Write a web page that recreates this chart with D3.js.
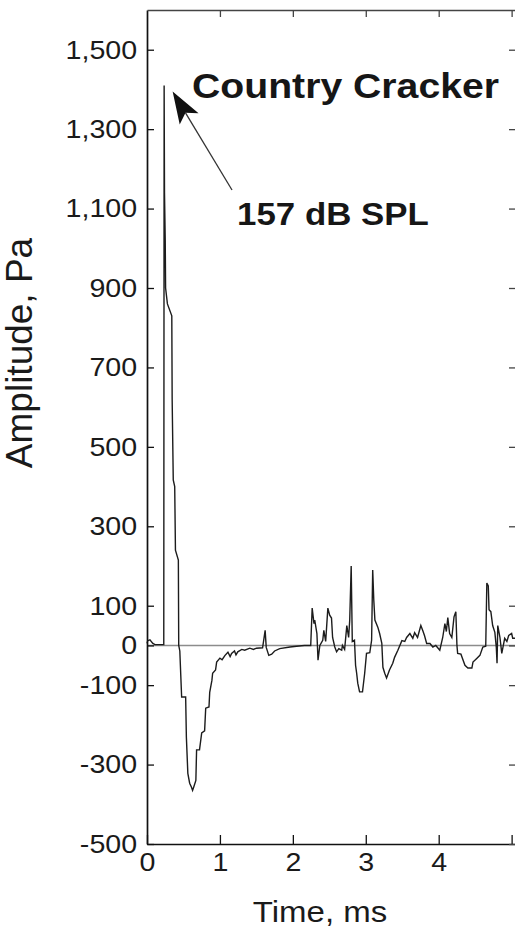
<!DOCTYPE html>
<html>
<head>
<meta charset="utf-8">
<script src="https://cdn.jsdelivr.net/npm/d3@7"></script>
<style>
  html, body { margin: 0; padding: 0; background: #fff; }
  svg { display: block; font-family: Arial, "Liberation Sans", Helvetica, sans-serif; }
</style>
</head>
<body>
<div id="chart"></div>
<script>
// ---------------------------- data ----------------------------
const timeMs = [
    0.00, 0.01, 0.04, 0.08, 0.11, 0.23, 0.235, 0.24, 0.25, 0.255, 0.28, 0.34, 0.345, 0.36, 0.38, 0.39,
    0.43, 0.435, 0.45, 0.475, 0.53, 0.54, 0.56, 0.585, 0.61, 0.625, 0.64, 0.67, 0.68, 0.72, 0.75, 0.79,
    0.805, 0.85, 0.86, 0.89, 0.90, 0.94, 0.955, 1.00, 1.03, 1.07, 1.11, 1.14, 1.16, 1.20, 1.22, 1.245,
    1.30, 1.34, 1.41, 1.46, 1.50, 1.585, 1.62, 1.635, 1.67, 1.71, 1.75, 1.82, 1.96, 2.05, 2.16, 2.245,
    2.265, 2.29, 2.30, 2.33, 2.345, 2.37, 2.41, 2.425, 2.45, 2.48, 2.505, 2.53, 2.545, 2.575, 2.60, 2.63,
    2.67, 2.68, 2.71, 2.74, 2.765, 2.78, 2.80, 2.815, 2.845, 2.86, 2.875, 2.89, 2.915, 2.955, 2.985, 3.01,
    3.055, 3.08, 3.095, 3.11, 3.125, 3.165, 3.19, 3.22, 3.235, 3.26, 3.285, 3.325, 3.37, 3.395, 3.44, 3.495,
    3.535, 3.56, 3.605, 3.645, 3.67, 3.71, 3.755, 3.78, 3.805, 3.835, 3.88, 3.92, 3.96, 4.015, 4.055, 4.085,
    4.105, 4.125, 4.15, 4.18, 4.21, 4.235, 4.25, 4.26, 4.305, 4.32, 4.36, 4.40, 4.455, 4.47, 4.525, 4.565,
    4.605, 4.645, 4.66, 4.68, 4.69, 4.715, 4.74, 4.77, 4.79, 4.80, 4.81, 4.84, 4.865, 4.905, 4.935, 4.96,
    5.00, 5.015, 5.06
];
const amplitudePa = [
    5, 12, 14, 5, 2, 2, 1410, 1140, 1020, 900, 860, 830, 620, 417, 400, 240,
    215, 0, -14, -130, -130, -231, -322, -347, -357, -365, -357, -340, -263, -263, -220, -215,
    -158, -155, -118, -88, -70, -62, -42, -32, -36, -25, -17, -28, -20, -14, -24, -16,
    -10, -12, -7, -10, -7, -6, 38, -5, -25, -22, -14, -8, -4, -2, 0, 0,
    94, 55, 64, 30, -37, 0, 13, 38, 10, 94, 76, 69, 20, -4, -16, -8,
    -12, 0, -10, 50, 20, 64, 200, 10, 13, -50, -70, -95, -117, -117, -70, -20,
    -18, 13, 190, 114, 64, 46, 30, 5, -55, -70, -82, -62, -45, -30, -12, 12,
    10, 20, 30, 18, 32, 20, 50, 38, 25, 5, 5, -4, 0, -12, 20, 55,
    35, 70, 30, 20, 72, 85, 0, -20, -22, -30, -50, -57, -57, -42, -32, -25,
    -4, -2, 157, 150, 90, 85, 50, 33, -5, -45, 50, 20, -20, 18, 10, 25,
    30, 18, 18
];
const xTicks = [0, 1, 2, 3, 4, 5];
const xTickLabels = ["0", "1", "2", "3", "4", ""];
const yTicks = [-500, -300, -100, 0, 100, 300, 500, 700, 900, 1100, 1300, 1500];
const xDomain = [0, 5.06];
const yDomain = [-500, 1600];
const peakLabel = "Country Cracker";
const levelLabel = "157 dB SPL";
const xTitle = "Time, ms";
const yTitle = "Amplitude, Pa";

const WIDTH = 515, HEIGHT = 928;
const FRAME = {left: 147, right: 516, top: 10, bottom: 844};
const STRETCH = "scale(1.1,1)";

const locale = d3.formatLocale({decimal: ".", thousands: ",", grouping: [3], currency: ["$", ""], minus: "-"});
const yFormat = locale.format(",");

const svg = d3.select("#chart")
    .append("svg")
    .attr("width", WIDTH)
    .attr("height", HEIGHT);

const x = d3.scaleLinear().domain(xDomain).range([FRAME.left, FRAME.right]);
const y = d3.scaleLinear().domain(yDomain).range([FRAME.bottom, FRAME.top]);

// ---------------------------------- zero line + trace ------------------------------------
svg.append("line")
    .attr("x1", x(xDomain[0]))
    .attr("x2", x(xDomain[1]))
    .attr("y1", y(0))
    .attr("y2", y(0))
    .attr("stroke", "#8c8c8c")
    .attr("stroke-width", 1.6);

const trace = timeMs.map((t, i) => [t, amplitudePa[i]]);
const line = d3.line().x(d => x(d[0])).y(d => y(d[1]));

svg.append("path")
    .datum(trace)
    .attr("d", line)
    .attr("fill", "none")
    .attr("stroke", "#1c1c1c")
    .attr("stroke-width", 1.4)
    .attr("stroke-linejoin", "miter");

// ---------------------------------- axes / frame ------------------------------------
function styleAxis(g, color, width) {
    g.select(".domain").attr("stroke", color).attr("stroke-width", width);
    g.selectAll(".tick line").attr("stroke", color).attr("stroke-width", 1.3);
    g.selectAll(".tick text")
        .attr("fill", "#1a1a1a")
        .attr("font-size", 26)
        .attr("font-family", "Arial, 'Liberation Sans', sans-serif")
        .attr("transform", STRETCH);
}

svg.append("g")
    .attr("transform", `translate(0,${FRAME.bottom})`)
    .call(d3.axisBottom(x).tickValues(xTicks).tickSize(-9).tickSizeOuter(0).tickPadding(9)
        .tickFormat((d, i) => xTickLabels[i]))
    .call(g => styleAxis(g, "#111", 1.7));

svg.append("g")
    .attr("transform", `translate(${FRAME.left},0)`)
    .call(d3.axisLeft(y).tickValues(yTicks).tickSize(-7).tickSizeOuter(0).tickPadding(9).tickFormat(yFormat))
    .call(g => styleAxis(g, "#111", 1.7));

svg.append("g")
    .attr("transform", `translate(0,${FRAME.top})`)
    .call(d3.axisTop(x).tickValues(xTicks.slice(1)).tickSize(-7).tickSizeOuter(0).tickFormat(""))
    .call(g => styleAxis(g, "#444", 1.5));

svg.append("g")
    .attr("transform", `translate(${FRAME.right},0)`)
    .call(d3.axisRight(y).tickValues(yTicks).tickSize(-7).tickSizeOuter(0).tickFormat(""))
    .call(g => styleAxis(g, "#444", 1.5));

// ---------------------------------- axis titles ------------------------------------
svg.append("g")
    .attr("transform", `translate(320,922) ${STRETCH}`)
    .append("text")
    .attr("text-anchor", "middle")
    .attr("font-size", 30)
    .attr("fill", "#1a1a1a")
    .text(xTitle);

svg.append("g")
    .attr("transform", "translate(32,353) rotate(-90)")
    .append("text")
    .attr("text-anchor", "middle")
    .attr("font-size", 37)
    .attr("fill", "#1a1a1a")
    .text(yTitle);

// ---------------------------------- annotation ------------------------------------
const peakIdx = d3.maxIndex(amplitudePa);
const tip = [x(timeMs[peakIdx]) + 8.5, y(amplitudePa[peakIdx]) + 6];
const tail = [232, 190];
const len = Math.hypot(tip[0] - tail[0], tip[1] - tail[1]);
const u = [(tip[0] - tail[0]) / len, (tip[1] - tail[1]) / len];
const n = [-u[1], u[0]];
const headLen = 32, headHalf = 11;
const base = [tip[0] - u[0] * headLen, tip[1] - u[1] * headLen];
const notch = [tip[0] - u[0] * headLen * 0.78, tip[1] - u[1] * headLen * 0.78];

svg.append("line")
    .attr("x1", tail[0]).attr("y1", tail[1])
    .attr("x2", notch[0]).attr("y2", notch[1])
    .attr("stroke", "#333")
    .attr("stroke-width", 1.3);

svg.append("path")
    .attr("d", d3.line()([
        tip,
        [base[0] + n[0] * headHalf, base[1] + n[1] * headHalf],
        notch,
        [base[0] - n[0] * headHalf, base[1] - n[1] * headHalf]
    ]) + "Z")
    .attr("fill", "#111");

svg.append("g")
    .attr("transform", "translate(192,98) scale(1.12,1)")
    .append("text")
    .attr("font-size", 35)
    .attr("font-weight", "bold")
    .attr("fill", "#161616")
    .text(peakLabel);

svg.append("g")
    .attr("transform", "translate(237,225) scale(1.09,1)")
    .append("text")
    .attr("font-size", 32)
    .attr("font-weight", "bold")
    .attr("fill", "#161616")
    .text(levelLabel);
</script>
</body>
</html>
